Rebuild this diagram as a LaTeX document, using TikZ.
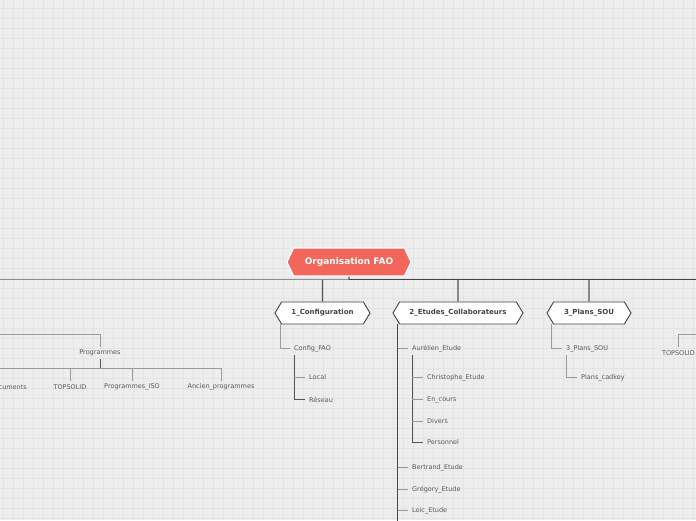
\documentclass[tikz,border=0pt]{standalone}
\usepackage{fontspec}
\setmainfont{DejaVu Sans}
\usetikzlibrary{positioning,shapes.symbols}
\definecolor{paper}{HTML}{EDEDED}
\definecolor{gridline}{HTML}{E4E4E4}
\definecolor{salmon}{HTML}{F2665B}
\definecolor{ink}{HTML}{444444}
\definecolor{label}{HTML}{5A5A5A}
\definecolor{twig}{HTML}{9A9A9A}
\definecolor{stem}{HTML}{555555}

\begin{document}
\begin{tikzpicture}[x=1pt,y=-1pt,every node/.style={font=\fontsize{6.5}{7}\selectfont,text=label},hexa/.style={signal,signal to=east and west,signal pointer angle=118,draw=ink,fill=white,line width=0.9pt,minimum height=22pt,inner sep=0pt,font=\fontsize{7}{8}\selectfont\bfseries,text=ink},topic/.style={anchor=west,inner xsep=4pt,inner ysep=3pt,yshift=-1.5pt},trunk/.style={draw=ink,line width=1.6pt},twigline/.style={draw=twig,line width=0.8pt},stemline/.style={draw=stem,line width=0.9pt}]
\useasboundingbox (0,0) rectangle (696,520);
\fill[paper] (0,0) rectangle (696,520);
\foreach \gx in {3,13,...,693} \draw[gridline,line width=0.5pt] (\gx,0) -- (\gx,520);
\foreach \gy in {8,18,...,518} \draw[gridline,line width=0.5pt] (0,\gy) -- (696,\gy);
% main topics
\node[signal,signal to=east and west,signal pointer angle=130,fill=salmon,draw=white,line width=1.2pt,minimum width=124pt,minimum height=28pt,inner sep=0pt,font=\fontsize{9}{10}\selectfont\bfseries,text=white] (root) at (349,262) {Organisation FAO};
\node[hexa,minimum width=95pt] (conf) at (322.5,313) {1\_Configuration};
\node[hexa,minimum width=130pt] (etudes) at (458,313) {2\_Etudes\_Collaborateurs};
\node[hexa,minimum width=84pt] (plans) at (589,313) {3\_Plans\_SOU};
\coordinate (hub) at (349,279.5);
\coordinate (west end) at (0,279.5);
\coordinate (east end) at (696,279.5);
\draw[trunk,draw=ink!60] (hub) -- (west end);
\draw[trunk] (hub) -- (east end);
\draw[stemline,line width=1.2pt] (root) -- (hub);
\draw[stemline,line width=1.2pt] (conf |- hub) -- (conf);
\draw[stemline,line width=1.2pt] (etudes |- hub) -- (etudes);
\draw[stemline,line width=1.2pt] (plans |- hub) -- (plans);
% 1_Configuration
\node[topic] (cfgfao) at (290,347) {Config\_FAO};
\node[topic] (local) at (305,376) {Local};
\node[topic] (reseau) at (305,398) {Réseau};
\draw[twigline] ([xshift=-42.5pt]conf.south) |- (cfgfao);
\draw[stemline] (cfgfao.text |- cfgfao.south) |- (reseau);
\draw[twigline] (local -| cfgfao.text) -- (local);
% 2_Etudes_Collaborateurs
\node[topic] (aurelien) at (408,347) {Aurélien\_Etude};
\node[topic] (christophe) at (423,376) {Christophe\_Etude};
\node[topic] (encours) at (423,398) {En\_cours};
\node[topic] (divers) at (423,419.5) {Divers};
\node[topic] (perso) at (423,441) {Personnel};
\node[topic] (bertrand) at (408,466) {Bertrand\_Etude};
\node[topic] (gregory) at (408,488) {Grégory\_Etude};
\node[topic] (loic) at (408,509) {Loic\_Etude};
\coordinate (etudes end) at (397.7,526);
\draw[trunk,line width=1.3pt] (etudes end |- etudes.south) -- (etudes end);
\foreach \kid in {aurelien,bertrand,gregory,loic}
  \draw[twigline] (\kid -| etudes end) -- (\kid);
\draw[stemline] (aurelien.text |- aurelien.south) |- (perso);
\foreach \kid in {christophe,encours,divers}
  \draw[twigline] (\kid -| aurelien.text) -- (\kid);
% 3_Plans_SOU
\node[topic] (plansou) at (562,347) {3\_Plans\_SOU};
\node[topic] (cadkey) at (577,376) {Plans\_cadkey};
\draw[twigline] ([xshift=-38pt]plans.south) |- (plansou);
\draw[twigline] (plansou.text |- plansou.south) |- (cadkey);
% left side
\node[topic,anchor=center] (prog) at (100,351.5) {Programmes};
\node[topic,anchor=east] (docs) at (31,385.5) {Documents};
\node[topic,anchor=center] (topsolid) at (70,385.5) {TOPSOLID};
\node[topic,anchor=center] (progiso) at (132,385.5) {Programmes\_ISO};
\node[topic,anchor=center] (ancien) at (221,385.5) {Ancien\_programmes};
\coordinate (prog in) at (0,334.5);
\coordinate (prog bar) at (100,368);
\coordinate (bar west) at (0,368);
\draw[twigline] (prog in) -| (prog);
\draw[stemline] (prog) -- (prog bar);
\draw[twigline] (bar west) -| (ancien);
\draw[twigline] (topsolid |- prog bar) -- (topsolid);
\draw[twigline] (progiso |- prog bar) -- (progiso);
% right side
\node[topic,anchor=center] (topsolidr) at (678.5,351.5) {TOPSOLID};
\coordinate (east in) at (696,334.5);
\draw[twigline] (east in) -| (topsolidr);
\end{tikzpicture}
\end{document}
